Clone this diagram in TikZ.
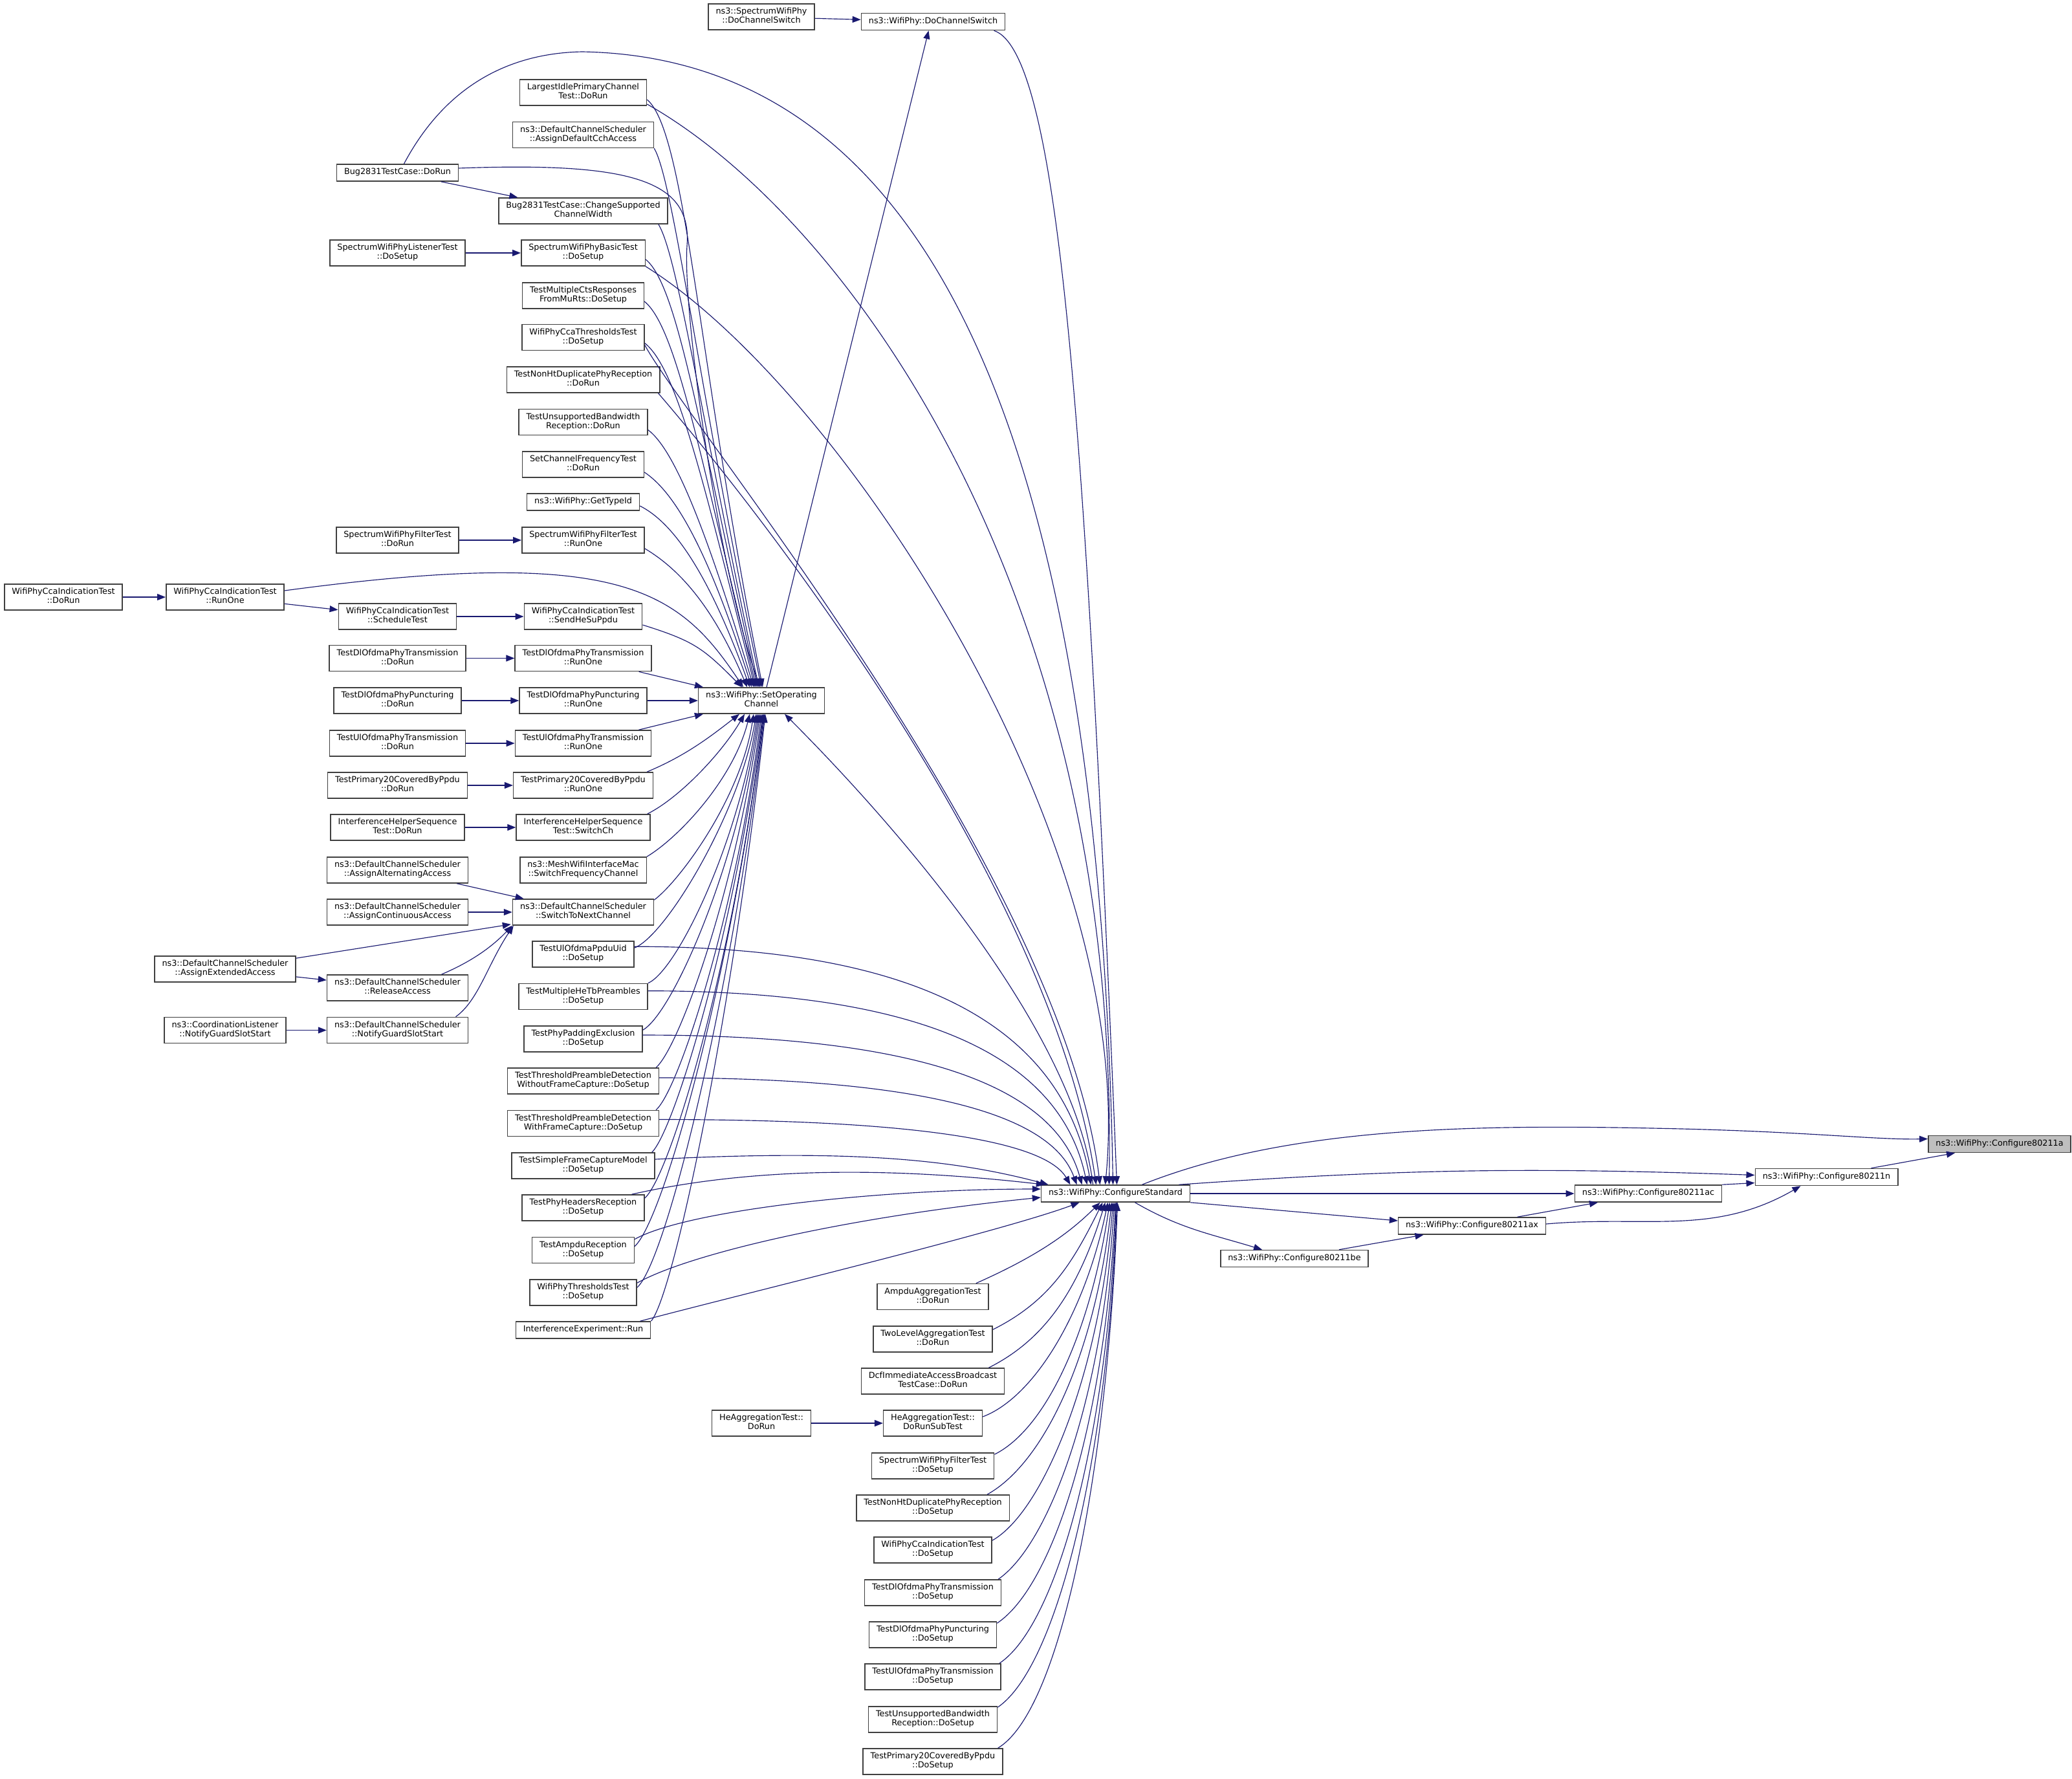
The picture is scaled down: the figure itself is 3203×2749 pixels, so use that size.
\documentclass[tikz,border=0pt]{standalone}
\usepackage{fontspec}
\setmainfont{DejaVu Sans}
\usetikzlibrary{arrows.meta,positioning}
\definecolor{edgeblue}{HTML}{191970}
\definecolor{boxline}{HTML}{404040}
\definecolor{rootfill}{HTML}{BFBFBF}

\begin{document}
\begin{tikzpicture}[x=1pt, y=1pt, node distance=287pt, >={Triangle[length=13pt, width=10pt]},
  block/.style={rectangle, draw=boxline, fill=white, line width=1.5pt, align=center, inner xsep=11.5pt, inner ysep=5.9pt, font=\fontsize{12.8}{14.3}\selectfont, execute at begin node=\strut, execute at end node=\strut},
  rootblock/.style={block, fill=rootfill},
  call/.style={->, draw=edgeblue, line width=1.15pt}]

  \useasboundingbox (0,0) rectangle (3203,-2749);

  \node[rootblock] (cfga) at (3091,-1768.5) {ns3::WifiPhy::Configure80211a};
  \node[block] (cfgn) at (2823.5,-1819.5) {ns3::WifiPhy::Configure80211n};
  \node[block] (cfgac) at (2548,-1845) {ns3::WifiPhy::Configure80211ac};
  \node[block] (cfgax) at (2275.5,-1895) {ns3::WifiPhy::Configure80211ax};
  \node[block] (cfgbe) at (2001,-1945.5) {ns3::WifiPhy::Configure80211be};
  \node[block] (cs) at (1724.5,-1845) {ns3::WifiPhy::ConfigureStandard};
  \node[block] (soc) at (1177,-1083) {ns3::WifiPhy::SetOperating\\Channel};
  \node[block] (dcs) at (1442.5,-33.5) {ns3::WifiPhy::DoChannelSwitch};
  \node[block] (sdcs) at (1177,-26) {ns3::SpectrumWifiPhy\\::DoChannelSwitch};

  \node[block] (largest) at (901.5,-143) {LargestIdlePrimaryChannel\\Test::DoRun};
  \node[block] (defcch) at (901.5,-208.5) {ns3::DefaultChannelScheduler\\::AssignDefaultCchAccess};
  \node[block] (bugrun) at (614.5,-267) {Bug2831TestCase::DoRun};
  \node[block] (changebw) at (901.5,-326) {Bug2831TestCase::ChangeSupported\\ChannelWidth};
  \node[block] (basic) at (901.5,-391) {SpectrumWifiPhyBasicTest\\::DoSetup};
  \node[block, left of=basic] (listener) {SpectrumWifiPhyListenerTest\\::DoSetup};
  \node[block] (multicts) at (901.5,-457) {TestMultipleCtsResponses\\FromMuRts::DoSetup};
  \node[block] (ccathr) at (901.5,-521.5) {WifiPhyCcaThresholdsTest\\::DoSetup};
  \node[block] (nonhtrun) at (901.5,-587) {TestNonHtDuplicatePhyReception\\::DoRun};
  \node[block] (unsuprun) at (901.5,-652.5) {TestUnsupportedBandwidth\\Reception::DoRun};
  \node[block] (setfreq) at (901.5,-718) {SetChannelFrequencyTest\\::DoRun};
  \node[block] (typeid) at (901.5,-776) {ns3::WifiPhy::GetTypeId};
  \node[block] (filterrunone) at (901.5,-835) {SpectrumWifiPhyFilterTest\\::RunOne};
  \node[block, left of=filterrunone] (filterrun) {SpectrumWifiPhyFilterTest\\::DoRun};
  \node[block] (ccarunone) at (348,-923) {WifiPhyCcaIndicationTest\\::RunOne};
  \node[block, left of=ccarunone, node distance=250pt] (ccarun) {WifiPhyCcaIndicationTest\\::DoRun};
  \node[block] (hesu) at (901.5,-953) {WifiPhyCcaIndicationTest\\::SendHeSuPpdu};
  \node[block, left of=hesu] (schedule) {WifiPhyCcaIndicationTest\\::ScheduleTest};
  \node[block] (dltxrunone) at (901.5,-1017.5) {TestDlOfdmaPhyTransmission\\::RunOne};
  \node[block, left of=dltxrunone] (dltxrun) {TestDlOfdmaPhyTransmission\\::DoRun};
  \node[block] (dlpunctrunone) at (901.5,-1083) {TestDlOfdmaPhyPuncturing\\::RunOne};
  \node[block, left of=dlpunctrunone] (dlpunctrun) {TestDlOfdmaPhyPuncturing\\::DoRun};
  \node[block] (ultxrunone) at (901.5,-1149) {TestUlOfdmaPhyTransmission\\::RunOne};
  \node[block, left of=ultxrunone] (ultxrun) {TestUlOfdmaPhyTransmission\\::DoRun};
  \node[block] (p20runone) at (901.5,-1214) {TestPrimary20CoveredByPpdu\\::RunOne};
  \node[block, left of=p20runone] (p20run) {TestPrimary20CoveredByPpdu\\::DoRun};
  \node[block] (ihsswitch) at (901.5,-1279) {InterferenceHelperSequence\\Test::SwitchCh};
  \node[block, left of=ihsswitch] (ihsrun) {InterferenceHelperSequence\\Test::DoRun};
  \node[block] (mesh) at (901.5,-1345) {ns3::MeshWifiInterfaceMac\\::SwitchFrequencyChannel};
  \node[block, left of=mesh] (alternating) {ns3::DefaultChannelScheduler\\::AssignAlternatingAccess};
  \node[block] (nextch) at (901.5,-1410) {ns3::DefaultChannelScheduler\\::SwitchToNextChannel};
  \node[block, left of=nextch] (continuous) {ns3::DefaultChannelScheduler\\::AssignContinuousAccess};
  \node[block] (extended) at (348,-1498) {ns3::DefaultChannelScheduler\\::AssignExtendedAccess};
  \node[block] (release) at (614.5,-1527) {ns3::DefaultChannelScheduler\\::ReleaseAccess};
  \node[block] (guardslot) at (614.5,-1592.5) {ns3::DefaultChannelScheduler\\::NotifyGuardSlotStart};
  \node[block, left of=guardslot, node distance=266.5pt] (coord) {ns3::CoordinationListener\\::NotifyGuardSlotStart};

  \node[block] (ppduuid) at (901.5,-1475) {TestUlOfdmaPpduUid\\::DoSetup};
  \node[block] (hetb) at (901.5,-1540.5) {TestMultipleHeTbPreambles\\::DoSetup};
  \node[block] (padding) at (901.5,-1606) {TestPhyPaddingExclusion\\::DoSetup};
  \node[block] (thrwo) at (901.5,-1671) {TestThresholdPreambleDetection\\WithoutFrameCapture::DoSetup};
  \node[block] (thrw) at (901.5,-1736.5) {TestThresholdPreambleDetection\\WithFrameCapture::DoSetup};
  \node[block] (simplefc) at (901.5,-1802) {TestSimpleFrameCaptureModel\\::DoSetup};
  \node[block] (headers) at (901.5,-1867) {TestPhyHeadersReception\\::DoSetup};
  \node[block] (ampdurx) at (901.5,-1932.5) {TestAmpduReception\\::DoSetup};
  \node[block] (phythr) at (901.5,-1998) {WifiPhyThresholdsTest\\::DoSetup};
  \node[block] (interfexp) at (901.5,-2056) {InterferenceExperiment::Run};

  \node[block] (ampduagg) at (1442,-2004.5) {AmpduAggregationTest\\::DoRun};
  \node[block] (twolevel) at (1442,-2070) {TwoLevelAggregationTest\\::DoRun};
  \node[block] (dcf) at (1442,-2135) {DcfImmediateAccessBroadcast\\TestCase::DoRun};
  \node[block] (heaggsub) at (1442,-2200) {HeAggregationTest::\\DoRunSubTest};
  \node[block, left of=heaggsub, node distance=265pt] (heaggrun) {HeAggregationTest::\\DoRun};
  \node[block] (filtersetup) at (1442,-2266) {SpectrumWifiPhyFilterTest\\::DoSetup};
  \node[block] (nonhtsetup) at (1442,-2331) {TestNonHtDuplicatePhyReception\\::DoSetup};
  \node[block] (ccasetup) at (1442,-2396) {WifiPhyCcaIndicationTest\\::DoSetup};
  \node[block] (dltxsetup) at (1442,-2462) {TestDlOfdmaPhyTransmission\\::DoSetup};
  \node[block] (dlpunctsetup) at (1442,-2527) {TestDlOfdmaPhyPuncturing\\::DoSetup};
  \node[block] (ultxsetup) at (1442,-2592) {TestUlOfdmaPhyTransmission\\::DoSetup};
  \node[block] (unsupsetup) at (1442,-2658) {TestUnsupportedBandwidth\\Reception::DoSetup};
  \node[block] (p20setup) at (1442,-2723) {TestPrimary20CoveredByPpdu\\::DoSetup};

  \coordinate (bugarc) at (900,-80);
  \coordinate (bugbend) at (1062,-380);
  \coordinate (aroute) at (2600,-1745);

  \draw[call] ([xshift=41]cs.north) .. controls (2000,-1738) and (2300,-1738) .. (aroute) .. controls (2800,-1750) and (2900,-1762) .. ([yshift=8]cfga.west);
  \draw[call] ([xshift=69]cfgn.north) -- ([xshift=-69]cfga.south);
  \draw[call] ([xshift=98]cs.north) to[out=4, in=178] ([yshift=3]cfgn.west);
  \draw[call] (cfgac.north east) -- ([yshift=-9]cfgn.west);
  \draw[call] ([yshift=3]cfgax.east) to[out=5, in=-150] ([xshift=-40]cfgn.south);
  \draw[call] (cs) -- (cfgac);
  \draw[call] ([xshift=70]cfgax.north) -- ([xshift=-78]cfgac.south);
  \draw[call] (cs.south east) -- ([yshift=8]cfgax.west);
  \draw[call] ([xshift=69]cfgbe.north) -- ([xshift=-75]cfgax.south);
  \draw[call] ([xshift=30]cs.south) to[out=-30, in=163] ([xshift=-50]cfgbe.north);

  \draw[call] (sdcs) -- (dcs);
  \draw[call] ([xshift=8]soc.north) -- ([xshift=-7]dcs.south);
  \draw[call] ([xshift=94]dcs.south) .. controls +(103.5,-34) and +(-46.5,1132) .. ([xshift=2]cs.north);
  \draw[call] ([xshift=-35]cs.north) .. controls +(-30,250) and +(150,-150) .. ([xshift=36]soc.south);

  \draw[call] ([xshift=10]bugrun.north) .. controls (690,-130) and (790,-82) .. (bugarc) .. controls (1450,-90) and (1700,-700) .. ([xshift=-4]cs.north);
  \draw[call] ([yshift=-18]largest.east) .. controls +(299,-169) and +(15.5,932) .. ([xshift=-10]cs.north);
  \draw[call] (basic.south east) .. controls +(302,-189) and +(51.5,532) .. ([xshift=-16]cs.north);
  \draw[call] ([yshift=-12]ccathr.east) .. controls +(62,-116.5) and +(-60,482) .. ([xshift=-24]cs.north);
  \draw[call] ([xshift=-3]nonhtrun.south east) .. controls +(132,-153) and +(-72.5,482) .. ([xshift=-30]cs.north);

  \draw[call] ([yshift=-11]largest.east) .. controls +(60,-50) and +(-100,500) .. ([xshift=2]soc.north);
  \draw[call] (defcch.south east) .. controls +(30,-50) and +(-95,450) .. (soc.north);
  \draw[call] ([yshift=7]bugrun.east) .. controls (980,-250) and (1070,-280) .. (bugbend) .. controls (1055,-480) and (1110,-880) .. ([xshift=-2]soc.north);
  \draw[call] (bugrun) -- (changebw);
  \draw[call] ([xshift=-15]changebw.south east) .. controls +(30,-50) and +(-90,420) .. ([xshift=-4]soc.north);
  \draw[call] (listener) -- (basic);
  \draw[call] ([yshift=-10]basic.east) .. controls +(50,-40) and +(-90,400) .. ([xshift=-6]soc.north);
  \draw[call] ([yshift=-9]multicts.east) .. controls +(50,-40) and +(-85,350) .. ([xshift=-8]soc.north);
  \draw[call] ([yshift=-9]ccathr.east) .. controls +(50,-40) and +(-80,320) .. ([xshift=-10]soc.north);
  \draw[call] ([yshift=-12]unsuprun.east) .. controls +(40,-30) and +(-75,250) .. ([xshift=-12]soc.north);
  \draw[call] ([yshift=-12]setfreq.east) .. controls +(45,-30) and +(-70,220) .. ([xshift=-15]soc.north);
  \draw[call] ([yshift=-6]typeid.east) .. controls +(50,-25) and +(-65,180) .. ([xshift=-18]soc.north);
  \draw[call] (filterrun) -- (filterrunone);
  \draw[call] ([yshift=-13]filterrunone.east) .. controls +(50,-30) and +(-55,130) .. ([xshift=-22]soc.north);
  \draw[call] (ccarun) -- (ccarunone);
  \draw[call] (ccarunone) -- (schedule);
  \draw[call] ([yshift=10]ccarunone.east) .. controls +(520,70) and +(-100,150) .. ([xshift=-28]soc.north);
  \draw[call] (schedule) -- (hesu);
  \draw[call] ([yshift=-13]hesu.east) .. controls +(80,-25) and +(-60,60) .. ([xshift=-30]soc.north);
  \draw[call] (dltxrun) -- (dltxrunone);
  \draw[call] ([xshift=-20]dltxrunone.south east) -- ([xshift=8]soc.north west);
  \draw[call] (dlpunctrun) -- (dlpunctrunone);
  \draw[call] (dlpunctrunone) -- (soc);
  \draw[call] (ultxrun) -- (ultxrunone);
  \draw[call] ([xshift=-20]ultxrunone.north east) -- ([xshift=8]soc.south west);
  \draw[call] (p20run) -- (p20runone);
  \draw[call] ([xshift=-10]p20runone.north east) .. controls +(60,25) and +(-45,-35) .. ([xshift=-34]soc.south);
  \draw[call] (ihsrun) -- (ihsswitch);
  \draw[call] ([xshift=-5]ihsswitch.north east) .. controls +(50,25) and +(-35,-60) .. ([xshift=-26]soc.south);
  \draw[call] (mesh.north east) .. controls +(50,30) and +(-25,-100) .. ([xshift=-18]soc.south);
  \draw[call] (alternating) -- (nextch);
  \draw[call] (continuous) -- (nextch);
  \draw[call] ([yshift=-4]extended.north east) -- ([xshift=-2,yshift=2]nextch.south west);
  \draw[call] (extended) -- (release);
  \draw[call] ([xshift=68]release.north) .. controls +(35,15) and +(-38,-40) .. (nextch.south west);
  \draw[call] (coord) -- (guardslot);
  \draw[call] ([xshift=90]guardslot.north) .. controls +(35,25) and +(-40,-60) .. ([xshift=2]nextch.south west);
  \draw[call] ([yshift=-2]nextch.north east) .. controls +(40,30) and +(-20,-130) .. ([xshift=-12]soc.south);

  \draw[call] ([yshift=-11]ppduuid.north east) .. controls +(50,20) and +(-25,-150) .. ([xshift=-8]soc.south);
  \draw[call] (hetb.north east) .. controls +(45,20) and +(-30,-200) .. ([xshift=-6]soc.south);
  \draw[call] ([yshift=-7]padding.north east) .. controls +(45,25) and +(-35,-240) .. ([xshift=-4]soc.south);
  \draw[call] ([xshift=-5]thrwo.north east) .. controls +(35,30) and +(-40,-280) .. ([xshift=-2]soc.south);
  \draw[call] ([xshift=-5]thrw.north east) .. controls +(35,30) and +(-40,-310) .. (soc.south);
  \draw[call] ([xshift=-5]simplefc.north east) .. controls +(35,35) and +(-45,-340) .. ([xshift=2]soc.south);
  \draw[call] ([yshift=-6]headers.north east) .. controls +(40,35) and +(-45,-380) .. ([xshift=3]soc.south);
  \draw[call] ([yshift=-15]ampdurx.north east) .. controls +(45,40) and +(-50,-400) .. ([xshift=4]soc.south);
  \draw[call] ([yshift=-13]phythr.north east) .. controls +(45,40) and +(-50,-430) .. ([xshift=5]soc.south);
  \draw[call] (interfexp.north east) .. controls +(35,40) and +(-50,-460) .. ([xshift=6]soc.south);

  \draw[call] ([yshift=-9]ppduuid.north east) .. controls +(423,0) and +(-46,254) .. ([xshift=-38]cs.north);
  \draw[call] ([yshift=-12]hetb.north east) .. controls +(406,0) and +(-44,207) .. ([xshift=-44]cs.north);
  \draw[call] ([yshift=6]padding.east) .. controls +(406,0) and +(-44,160) .. ([xshift=-52]cs.north);
  \draw[call] ([yshift=5]thrwo.east) .. controls +(386,0) and +(-42,115) .. ([xshift=-60]cs.north);
  \draw[call] ([yshift=6]thrw.east) .. controls +(380,0) and +(-41,70) .. ([xshift=-70]cs.north);
  \draw[call] ([yshift=10]simplefc.east) .. controls +(300,15) and +(-150,40) .. ([xshift=-104]cs.north);
  \draw[call] ([xshift=75]headers.north) .. controls +(200,45) and +(-220,25) .. ([xshift=6]cs.north west);
  \draw[call] ([yshift=-4]ampdurx.north east) .. controls +(80,45) and +(-250,0) .. ([yshift=7]cs.west);
  \draw[call] ([yshift=-6]phythr.north east) .. controls +(80,45) and +(-300,-30) .. ([yshift=-6]cs.west);
  \draw[call] ([xshift=88]interfexp.north) .. controls +(150,40) and +(-120,-45) .. ([xshift=-56]cs.south);

  \draw[call] ([xshift=-20]ampduagg.north east) .. controls +(90,40) and +(-50,-50) .. ([xshift=-24]cs.south);
  \draw[call] ([yshift=-6]twolevel.north east) .. controls +(90,45) and +(-45,-90) .. ([xshift=-20]cs.south);
  \draw[call] ([xshift=-25]dcf.north east) .. controls +(90,45) and +(-40,-130) .. ([xshift=-16]cs.south);
  \draw[call] (heaggrun) -- (heaggsub);
  \draw[call] ([yshift=10]heaggsub.east) .. controls +(80,30) and +(-35,-170) .. ([xshift=-12]cs.south);
  \draw[call] ([yshift=-3]filtersetup.north east) .. controls +(80,40) and +(-30,-200) .. ([xshift=-9]cs.south);
  \draw[call] ([xshift=-35]nonhtsetup.north east) .. controls +(90,50) and +(-25,-230) .. ([xshift=-6]cs.south);
  \draw[call] ([yshift=-6]ccasetup.north east) .. controls +(80,45) and +(-20,-260) .. ([xshift=-4]cs.south);
  \draw[call] ([xshift=-5]dltxsetup.north east) .. controls +(80,55) and +(-18,-300) .. ([xshift=-2]cs.south);
  \draw[call] ([yshift=-3]dlpunctsetup.north east) .. controls +(90,60) and +(-16,-330) .. (cs.south);
  \draw[call] ([xshift=-3]ultxsetup.north east) .. controls +(90,60) and +(-14,-360) .. ([xshift=1]cs.south);
  \draw[call] ([yshift=-2]unsupsetup.north east) .. controls +(95,65) and +(-13,-380) .. ([xshift=2]cs.south);
  \draw[call] ([xshift=-8]p20setup.north east) .. controls +(100,60) and +(-15,-400) .. ([xshift=3]cs.south);
\end{tikzpicture}
\end{document}
